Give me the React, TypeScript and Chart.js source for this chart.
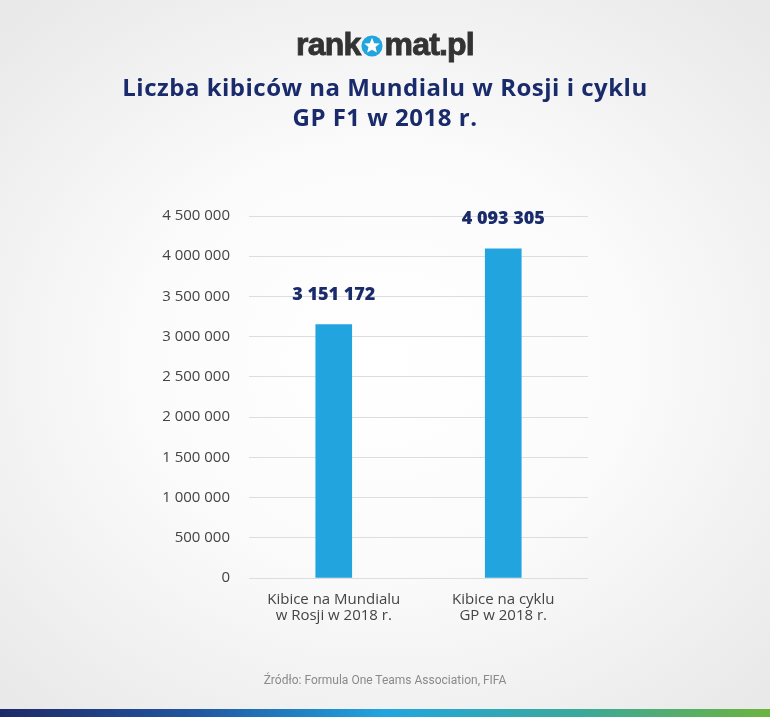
import React, { useEffect, useRef } from "react";
import { Chart, registerables } from "chart.js";

Chart.register(...registerables);

const categories: string[][] = [
  ["Kibice na Mundialu", "w Rosji w 2018 r."],
  ["Kibice na cyklu", "GP w 2018 r."],
];
const fans: number[] = [3151172, 4093305];
const yMax = 4500000;
const yStep = 500000;

const titleLines = ["Liczba kibiców na Mundialu w Rosji i cyklu", "GP F1 w 2018 r."];
const sourceText = "Źródło: Formula One Teams Association, FIFA";

const fmt = (v: number) => String(Math.round(v)).replace(/\B(?=(\d{3})+(?!\d))/g, " ");

const valueLabels = {
  id: "valueLabels",
  afterDatasetsDraw(chart: any) {
    const ctx = chart.ctx;
    const meta = chart.getDatasetMeta(0);
    ctx.save();
    ctx.font = "800 18px 'Open Sans', sans-serif";
    ctx.fillStyle = "#1a2b6c";
    ctx.textAlign = "center";
    ctx.textBaseline = "middle";
    meta.data.forEach((bar: any, i: number) => {
      ctx.fillText(fmt(fans[i]), bar.x, bar.y - 30);
    });
    ctx.restore();
  },
};

function Logo() {
  const font: React.CSSProperties = {
    fontFamily: "'Liberation Sans', Arial, sans-serif",
    fontWeight: 700,
    fontSize: 32,
    color: "#333333",
    letterSpacing: "-0.8px",
    WebkitTextStroke: "0.9px #333333",
  };
  return (
    <div
      style={{
        position: "absolute",
        top: 24,
        left: 0,
        width: 770,
        textAlign: "center",
        lineHeight: "40px",
        ...font,
      }}
    >
      <span>rank</span>
      <svg width="22" height="22" viewBox="0 0 20 20" style={{ verticalAlign: "-2px", margin: "0 1px" }}>
        <circle cx="10" cy="10" r="9.6" fill="#22a5df" />
        <polygon
          points="10,2.6 12,7.4 17.1,7.7 13.2,11 14.4,16 10,13.3 5.6,16 6.8,11 2.9,7.7 8,7.4"
          fill="#ffffff"
        />
      </svg>
      <span>mat.pl</span>
    </div>
  );
}

export default function App() {
  const ref = useRef<HTMLCanvasElement>(null);

  useEffect(() => {
    if (!ref.current) return;
    const chart = new Chart(ref.current, {
      type: "bar",
      data: {
        labels: categories,
        datasets: [
          {
            data: fans,
            backgroundColor: "#22a5df",
            borderWidth: 0,
            barThickness: 36,
          },
        ],
      },
      options: {
        responsive: false,
        animation: false,
        layout: { padding: { top: 216, right: 182, left: 0, bottom: 0 } },
        plugins: { legend: { display: false }, tooltip: { enabled: false } },
        scales: {
          x: {
            grid: { display: false, drawTicks: false },
            border: { display: false },
            afterFit: (s: any) => {
              s.height = 139;
            },
            ticks: {
              color: "#444444",
              padding: 13,
              maxRotation: 0,
              font: { family: "'Open Sans', sans-serif", size: 15, lineHeight: 1.1 },
            },
          },
          y: {
            min: 0,
            max: yMax,
            afterFit: (s: any) => {
              s.width = 249;
            },
            grid: { color: "#dddddd", lineWidth: 1, drawTicks: false },
            border: { display: false },
            ticks: {
              stepSize: yStep,
              color: "#444444",
              padding: 19,
              font: { family: "'Open Sans', sans-serif", size: 15 },
              callback: (v: any) => fmt(Number(v)),
            },
          },
        },
      },
      plugins: [valueLabels],
    });
    return () => chart.destroy();
  }, []);

  return (
    <div
      style={{
        position: "fixed",
        left: 0,
        top: 0,
        width: 770,
        height: 717,
        overflow: "hidden",
        background:
          "radial-gradient(ellipse 70% 65% at 50% 50%, #ffffff 0%, #fbfbfb 45%, #e9e9e9 100%)",
      }}
    >
      <Logo />
      <div
        style={{
          position: "absolute",
          top: 72,
          left: 0,
          width: 770,
          textAlign: "center",
          fontFamily: "'Open Sans', sans-serif",
          fontWeight: 700,
          fontSize: 24,
          lineHeight: "30px",
          color: "#1a2b6c",
          letterSpacing: "0.5px",
        }}
      >
        {titleLines.map((t, i) => (
          <div key={i}>{t}</div>
        ))}
      </div>
      <canvas
        ref={ref}
        width={770}
        height={717}
        style={{ position: "absolute", left: 0, top: 0, width: 770, height: 717 }}
      />
      <div
        style={{
          position: "absolute",
          top: 673,
          left: 0,
          width: 770,
          textAlign: "center",
          fontFamily: "'Liberation Sans Narrow', 'Roboto', sans-serif",
          fontSize: 12,
          color: "#8a8a8a",
        }}
      >
        {sourceText}
      </div>
      <div
        style={{
          position: "absolute",
          left: 0,
          top: 709,
          width: 770,
          height: 8,
          background:
            "linear-gradient(90deg, #1e2a68 0%, #21559f 25%, #21a5df 50%, #3aa99c 75%, #6cb33f 100%)",
        }}
      />
    </div>
  );
}
